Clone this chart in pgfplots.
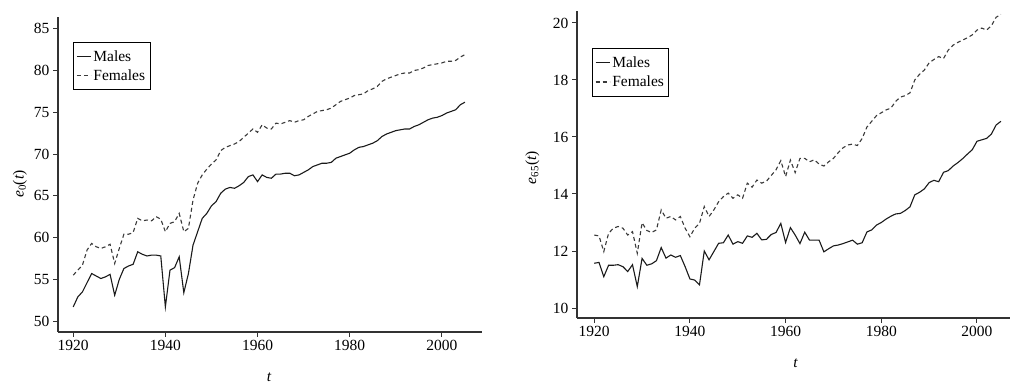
\documentclass[border=0pt]{standalone}
\usepackage{fontspec}
\setmainfont{Liberation Serif}
\usepackage{pgfplots}
\usepackage{pgfplotstable}
\pgfplotsset{compat=1.18}

\pgfplotstableread{
year m f
1920 51.7 55.5
1921 52.9 56.1
1922 53.5 56.7
1923 54.6 58.5
1924 55.7 59.3
1925 55.4 58.9
1926 55.1 58.7
1927 55.3 58.9
1928 55.6 59.2
1929 53.1 56.9
1930 55.0 58.7
1931 56.3 60.4
1932 56.6 60.4
1933 56.8 60.6
1934 58.3 62.3
1935 58.0 62.0
1936 57.8 62.1
1937 57.9 62.0
1938 57.9 62.5
1939 57.8 62.2
1940 51.7 60.7
1941 56.1 61.7
1942 56.4 61.9
1943 57.7 62.9
1944 53.4 60.7
1945 55.7 61.1
1946 59.1 64.5
1947 60.7 66.5
1948 62.3 67.5
1949 62.9 68.2
1950 63.8 68.8
1951 64.3 69.3
1952 65.3 70.4
1953 65.8 70.8
1954 66.0 71.0
1955 65.9 71.2
1956 66.2 71.5
1957 66.6 72.0
1958 67.3 72.5
1959 67.5 73.0
1960 66.7 72.6
1961 67.5 73.5
1962 67.2 73.1
1963 67.1 73.0
1964 67.6 73.7
1965 67.6 73.6
1966 67.7 73.8
1967 67.7 74.0
1968 67.4 73.8
1969 67.5 74.0
1970 67.8 74.1
1971 68.1 74.5
1972 68.5 74.8
1973 68.7 75.1
1974 68.9 75.2
1975 68.9 75.3
1976 69.0 75.5
1977 69.5 75.9
1978 69.7 76.3
1979 69.9 76.5
1980 70.1 76.7
1981 70.5 77.0
1982 70.8 77.1
1983 70.9 77.2
1984 71.1 77.6
1985 71.3 77.8
1986 71.6 78.1
1987 72.1 78.7
1988 72.4 79.0
1989 72.6 79.2
1990 72.8 79.4
1991 72.9 79.6
1992 73.0 79.7
1993 73.0 79.7
1994 73.3 80.0
1995 73.5 80.1
1996 73.8 80.3
1997 74.1 80.6
1998 74.3 80.7
1999 74.4 80.8
2000 74.6 80.9
2001 74.9 81.1
2002 75.1 81.1
2003 75.3 81.2
2004 75.9 81.6
2005 76.2 81.9
}\ezero

\pgfplotstableread{
year m f
1920 11.57 12.56
1921 11.60 12.53
1922 11.10 11.98
1923 11.50 12.62
1924 11.50 12.80
1925 11.52 12.86
1926 11.45 12.80
1927 11.28 12.56
1928 11.52 12.68
1929 10.75 11.92
1930 11.74 12.99
1931 11.50 12.72
1932 11.55 12.65
1933 11.66 12.74
1934 12.12 13.44
1935 11.75 13.15
1936 11.86 13.21
1937 11.78 13.09
1938 11.84 13.21
1939 11.45 12.80
1940 11.02 12.50
1941 10.98 12.80
1942 10.81 12.97
1943 12.00 13.56
1944 11.69 13.21
1945 11.98 13.44
1946 12.27 13.73
1947 12.29 13.91
1948 12.56 14.03
1949 12.24 13.85
1950 12.33 13.97
1951 12.27 13.85
1952 12.53 14.38
1953 12.48 14.24
1954 12.62 14.49
1955 12.39 14.38
1956 12.41 14.45
1957 12.58 14.65
1958 12.65 14.85
1959 12.97 15.17
1960 12.30 14.61
1961 12.82 15.19
1962 12.56 14.75
1963 12.26 15.25
1964 12.66 15.25
1965 12.38 15.13
1966 12.38 15.20
1967 12.38 15.05
1968 11.97 14.98
1969 12.08 15.13
1970 12.18 15.25
1971 12.21 15.45
1972 12.26 15.62
1973 12.32 15.72
1974 12.38 15.75
1975 12.24 15.70
1976 12.29 15.95
1977 12.67 16.35
1978 12.74 16.55
1979 12.91 16.75
1980 13.00 16.85
1981 13.12 16.95
1982 13.22 17.01
1983 13.30 17.25
1984 13.32 17.40
1985 13.42 17.45
1986 13.55 17.55
1987 13.97 18.00
1988 14.06 18.20
1989 14.18 18.35
1990 14.40 18.60
1991 14.48 18.72
1992 14.43 18.82
1993 14.76 18.75
1994 14.82 19.05
1995 14.98 19.22
1996 15.10 19.32
1997 15.24 19.40
1998 15.40 19.48
1999 15.55 19.58
2000 15.85 19.75
2001 15.90 19.82
2002 15.95 19.75
2003 16.10 19.90
2004 16.42 20.20
2005 16.55 20.30
}\esixtyfive

\definecolor{axgray}{HTML}{333333}
\definecolor{mline}{HTML}{1A1A1A}
\definecolor{fline}{HTML}{3A3A3A}

\pgfplotsset{
  every axis/.append style={
    scale only axis,
    axis lines=left,
    axis line style={-, line width=1.2pt, color=axgray},
    tick align=outside,
    major tick length=5pt,
    tick style={line width=1pt, color=axgray},
    font=\fontsize{15.5}{18}\selectfont,
    tick label style={font=\fontsize{15.5}{18}\selectfont},
    xtick={1920,1940,1960,1980,2000},
    x tick label style={/pgf/number format/1000 sep={}},
    /pgf/number format/assume math mode=true,
    legend cell align=left,
    legend style={draw=black, line width=0.9pt, font=\fontsize{15.5}{18}\selectfont,
      inner xsep=3pt, inner ysep=6pt, row sep=3pt, anchor=north west,
      /tikz/every even column/.append style={column sep=0pt}},
    legend image code/.code={\draw[#1] (0pt,0pt) -- (14pt,0pt);},
    clip=false,
  },
}

\begin{document}
\begin{tikzpicture}
\useasboundingbox (0,0) rectangle (1013pt,387pt);

\begin{axis}[
  at={(58pt,55pt)}, anchor=south west,
  width=424pt, height=315pt,
  xmin=1916.7, xmax=2008.7, ymin=48.7, ymax=86.4,
  ytick={50,55,...,85},
  xlabel={\textit{t}},
  ylabel={\textit{e}\textsubscript{0}(\textit{t})},
  xlabel style={at={(axis description cs:0.498,-0.145)}, anchor=center},
  ylabel style={at={(axis description cs:-0.0896,0.47)}, anchor=center},
  legend style={at={(axis description cs:0.035,0.921)}},
]
\addplot[mline, line width=1.1pt] table[x=year,y=m] {\ezero};
\addlegendentry{Males}
\addplot[fline, line width=1.1pt, dash pattern=on 4pt off 3pt] table[x=year,y=f] {\ezero};
\addlegendentry{Females}
\end{axis}

\begin{axis}[
  at={(577pt,69pt)}, anchor=south west,
  width=433pt, height=307pt,
  xmin=1916.4, xmax=2006.9, ymin=9.65, ymax=20.42,
  ytick={10,12,...,20},
  xlabel={\textit{t}},
  ylabel={\textit{e}\textsubscript{65}(\textit{t})},
  xlabel style={at={(axis description cs:0.505,-0.147)}, anchor=center},
  ylabel style={at={(axis description cs:-0.103,0.49)}, anchor=center},
  legend style={at={(axis description cs:0.034,0.879)}},
]
\addplot[mline, line width=1.1pt] table[x=year,y=m] {\esixtyfive};
\addlegendentry{Males}
\addplot[fline, line width=1.1pt, dash pattern=on 4pt off 3pt] table[x=year,y=f] {\esixtyfive};
\addlegendentry{Females}
\end{axis}
\end{tikzpicture}
\end{document}
